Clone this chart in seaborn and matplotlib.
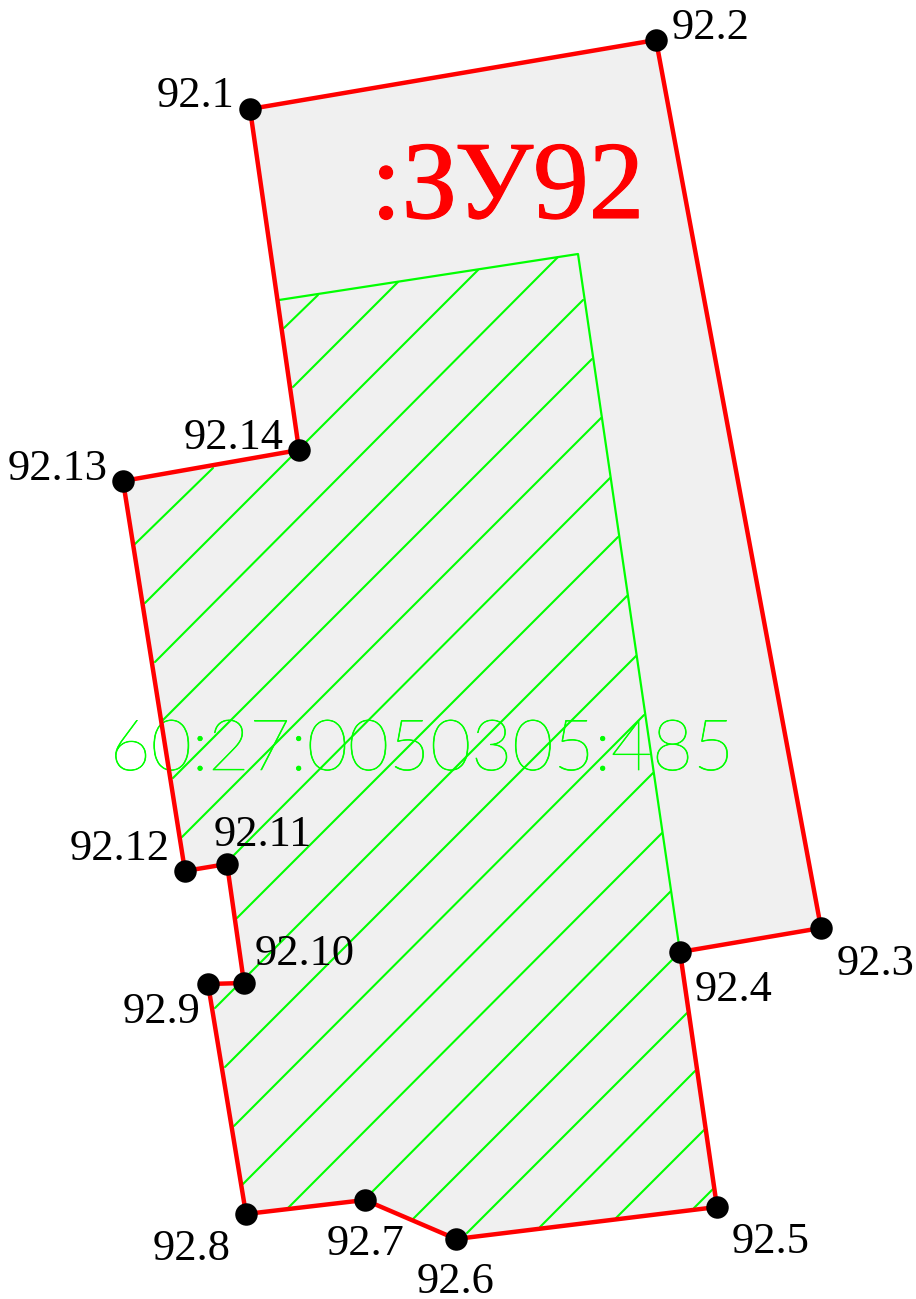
import matplotlib
matplotlib.use("Agg")
import matplotlib.pyplot as plt
import matplotlib.patheffects as pe
import seaborn as sns
import pandas as pd

sns.set_theme(style="white")

point_labels = ["92.1", "92.2", "92.3", "92.4", "92.5", "92.6", "92.7",
                "92.8", "92.9", "92.10", "92.11", "92.12", "92.13", "92.14"]
point_x = [250, 656, 821, 680, 717, 456, 365, 246, 208, 244, 227, 185, 123, 299]
point_y = [109, 40, 928, 952, 1207, 1239, 1200, 1214, 984, 983, 864, 871, 481, 450]
label_x = [195, 711, 876, 734, 771, 456, 365, 192, 162, 305, 263, 120, 58, 234]
label_y = [107, 39, 975, 1001, 1253, 1293, 1255, 1260, 1023, 965, 846, 860, 480, 449]

inner_x = [279, 578, 680]
inner_y = [300, 254, 952]

hatch_x0 = [318, 398, 213, 478, 558, 583, 592, 601, 610, 618, 627, 636, 644, 653, 662, 671, 672, 687, 695, 704, 713]
hatch_y0 = [295, 282, 468, 270, 257, 300, 359, 418, 478, 537, 596, 656, 715, 773, 833, 891, 960, 1013, 1071, 1130, 1189]
hatch_x1 = [284, 293, 135, 145, 155, 163, 173, 182, 232, 237, 215, 225, 234, 243, 288, 372, 413, 467, 540, 616, 694]
hatch_y1 = [328, 387, 544, 603, 662, 720, 778, 837, 857, 918, 1008, 1067, 1126, 1184, 1208, 1192, 1219, 1233, 1227, 1218, 1208]

parcel_title = ":ЗУ92"
cadastral_number = "60:27:0050305:485"

RED = "#ff0000"
GREEN = "#00ff00"
FILL = "#f0f0f0"

fig = plt.figure(figsize=(9.16, 12.99), dpi=100, facecolor="white")
ax = fig.add_axes([0, 0, 1, 1])
ax.set_xlim(0, 916)
ax.set_ylim(1299, 0)
ax.axis("off")

ax.fill(point_x, point_y, color=FILL, lw=0, zorder=1)

hatch_rows = []
for i, (a, b, c, d) in enumerate(zip(hatch_x0, hatch_y0, hatch_x1, hatch_y1)):
    hatch_rows += [(i, a, b), (i, c, d)]
hatch = pd.DataFrame(hatch_rows, columns=["seg", "x", "y"])
sns.lineplot(data=hatch, x="x", y="y", units="seg", estimator=None, sort=False,
             color=GREEN, lw=1.5, ax=ax, zorder=2, legend=False)
sns.lineplot(x=inner_x, y=inner_y, estimator=None, sort=False, color=GREEN, lw=1.6,
             ax=ax, zorder=2, legend=False)

ring = pd.DataFrame({"x": point_x + point_x[:1], "y": point_y + point_y[:1]})
sns.lineplot(data=ring, x="x", y="y", estimator=None, sort=False, color=RED, lw=3.2,
             ax=ax, zorder=3, legend=False)
sns.scatterplot(x=point_x, y=point_y, color="black", s=262, linewidth=0, ax=ax,
                zorder=4, legend=False)
ax.set_xlabel("")
ax.set_ylabel("")

for t, x, y in zip(point_labels, label_x, label_y):
    ax.text(x, y, t, family="Liberation Serif", fontsize=32, color="black",
            ha="center", va="baseline", zorder=5)

ax.text(507.5, 218, parcel_title, family="Liberation Serif", fontsize=80, color=RED,
        ha="center", va="baseline", zorder=5,
        path_effects=[pe.withStroke(linewidth=0.8, foreground=RED)])

ax.text(422, 770, cadastral_number, family="Lato", weight=100, style="normal",
        fontsize=51, color=GREEN, ha="center", va="baseline", zorder=2.5,
        path_effects=[pe.withStroke(linewidth=0.5, foreground=GREEN)])

fig.savefig("out.png", dpi=100, facecolor="white")
